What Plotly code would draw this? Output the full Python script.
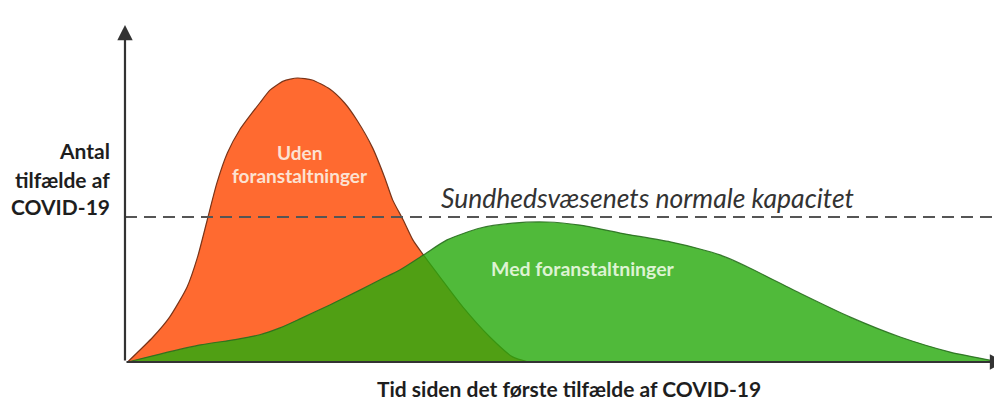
import plotly.graph_objects as go

# Data (arbitrary units: time 0..100, cases 0..100)
red_t = [0.3, 3.2, 5.1, 7.1, 8.3, 9.4, 10.5, 11.7, 13.1, 15.4, 16.6, 18.1, 19.7, 21.4,
         23.4, 25.1, 26.5, 28.3, 29.7, 30.6, 31.8, 32.9, 34.1, 36.0, 38.6, 41.7, 44.3, 46.1]
red_y = [0, 8.8, 15.8, 26.4, 37.0, 50.0, 63.0, 73.6, 81.7, 91.2, 95.8, 98.9, 100, 99.3,
         96.1, 91.2, 85.2, 75.4, 64.8, 57.0, 50.0, 43.0, 37.7, 29.9, 19.4, 8.8, 1.8, 0]

green_t = [0.3, 4.0, 8.6, 12.6, 15.4, 17.7, 20.0, 23.4, 26.9, 29.1, 31.4, 34.1, 36.8, 40.6,
           44.3, 48.2, 52.0, 56.6, 62.3, 65.7, 68.0, 71.4, 77.1, 82.9, 88.6, 94.3, 100.0]
green_y = [0, 2.8, 6.0, 7.9, 9.6, 12.0, 15.2, 20.1, 25.4, 28.9, 32.4, 37.7, 43.0, 47.2,
           48.9, 49.3, 48.2, 45.4, 42.3, 39.8, 37.7, 33.1, 24.3, 15.8, 8.8, 3.5, 0]

capacity = 51.1
x_range = [-13.37, 100.23]
y_range = [-13.38, 124.65]
y_axis_top = 118.7

fig = go.Figure()
fig.add_trace(go.Scatter(
    x=red_t, y=red_y, mode="lines", fill="tozeroy",
    line=dict(color="#7a3418", width=1.2, shape="spline", smoothing=0.6),
    fillcolor="#FF6A30", hoverinfo="skip", showlegend=False))
fig.add_trace(go.Scatter(
    x=green_t, y=green_y, mode="lines", fill="tozeroy",
    line=dict(color="rgba(40,110,30,0.9)", width=1.2, shape="spline", smoothing=0.6),
    fillcolor="rgba(42,171,15,0.82)", hoverinfo="skip", showlegend=False))

# capacity line
fig.add_shape(type="line", x0=0, x1=x_range[1], y0=capacity, y1=capacity,
              line=dict(color="#555555", width=2, dash="12px,7px"), layer="above")

# axes with arrows
fig.add_annotation(x=0, y=y_axis_top, ax=0, ay=0, xref="x", yref="y", axref="x", ayref="y",
                   showarrow=True, arrowhead=2, arrowsize=1.4, arrowwidth=2.2,
                   arrowcolor="#333333", text="")
fig.add_annotation(x=100.6, y=0, ax=0, ay=0, xref="x", yref="y", axref="x", ayref="y",
                   showarrow=True, arrowhead=2, arrowsize=1.4, arrowwidth=2.2,
                   arrowcolor="#333333", text="")

bold = "Lato"
ylab = ["Antal", "tilfælde af", "COVID-19"]
ylab_y = [74.6, 64.4, 54.9]
for t, yy in zip(ylab, ylab_y):
    fig.add_annotation(x=-1.5, y=yy, xref="x", yref="y", text="<b>" + t + "</b>",
                       showarrow=False, xanchor="right", yanchor="middle",
                       font=dict(family=bold, size=21, color="#1e1e1e"))

fig.add_annotation(x=20.0, y=73.9, text="<b>Uden</b>", showarrow=False,
                   font=dict(family=bold, size=19, color="#FCE2D2"))
fig.add_annotation(x=20.0, y=65.8, text="<b>foranstaltninger</b>", showarrow=False,
                   font=dict(family=bold, size=19, color="#FCE2D2"))
fig.add_annotation(x=52.4, y=33.1, text="<b>Med foranstaltninger</b>", showarrow=False,
                   font=dict(family=bold, size=19.5, color="#DDF3D2"))
fig.add_annotation(x=59.7, y=57.7, text="<i>Sundhedsvæsenets normale kapacitet</i>",
                   showarrow=False, font=dict(family=bold, size=26.5, color="#333333"))
fig.add_annotation(x=50.7, y=-9.3, text="<b>Tid siden det første tilfælde af COVID-19</b>",
                   showarrow=False, font=dict(family=bold, size=21, color="#1e1e1e"))

fig.update_layout(
    width=994, height=392, margin=dict(l=0, r=0, t=0, b=0),
    paper_bgcolor="white", plot_bgcolor="white",
    xaxis=dict(range=x_range, visible=False, fixedrange=True),
    yaxis=dict(range=y_range, visible=False, fixedrange=True),
    showlegend=False)

fig.write_html("out.html")
